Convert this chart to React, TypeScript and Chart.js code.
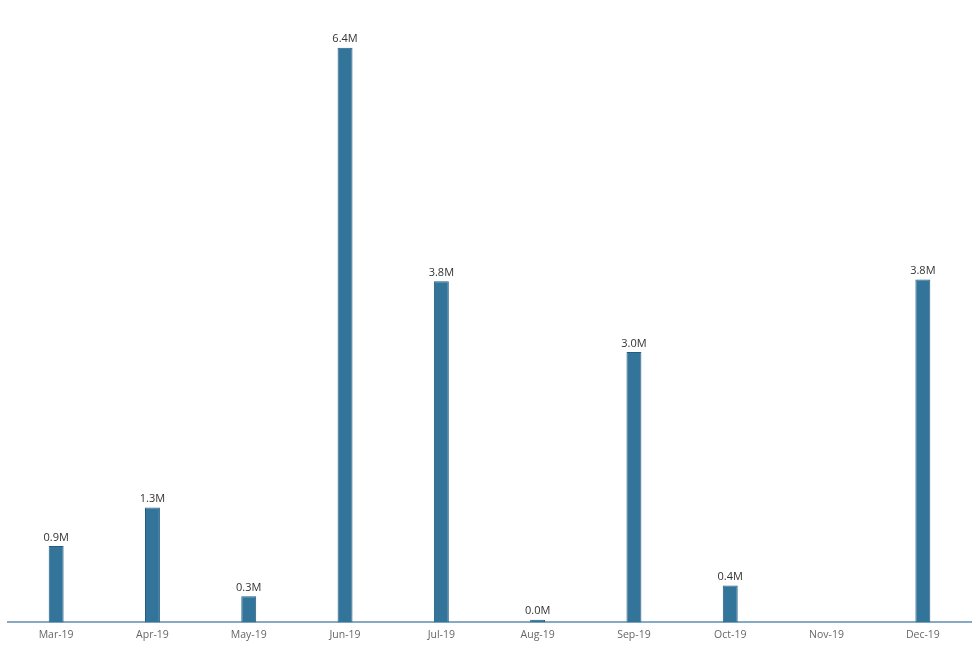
import React, { useEffect, useRef } from "react";
import { Chart, registerables } from "chart.js";

Chart.register(...registerables);

const months = ["Mar-19", "Apr-19", "May-19", "Jun-19", "Jul-19", "Aug-19", "Sep-19", "Oct-19", "Nov-19", "Dec-19"];
const values: (number | null)[] = [0.85, 1.28, 0.29, 6.4, 3.8, 0.03, 3.01, 0.41, null, 3.82];
const valueLabels = ["0.9M", "1.3M", "0.3M", "6.4M", "3.8M", "0.0M", "3.0M", "0.4M", "", "3.8M"];

const labelPlugin = {
  id: "barLabels",
  afterDatasetsDraw(chart: any) {
    const ctx = chart.ctx;
    const meta = chart.getDatasetMeta(0);
    ctx.save();
    ctx.font = "11px 'Open Sans', Lato, sans-serif";
    ctx.fillStyle = "#333333";
    ctx.textAlign = "center";
    ctx.textBaseline = "bottom";
    meta.data.forEach((bar: any, i: number) => {
      if (values[i] == null) return;
      ctx.fillText(valueLabels[i], bar.x, bar.y - 3);
    });
    ctx.restore();
  },
};

export default function App() {
  const ref = useRef<HTMLCanvasElement>(null);
  useEffect(() => {
    if (!ref.current) return;
    const chart = new Chart(ref.current, {
      type: "bar",
      data: {
        labels: months,
        datasets: [
          {
            data: values,
            backgroundColor: "#33749b",
            borderColor: "#245c80",
            borderWidth: 1,
            categoryPercentage: 1,
            barPercentage: 0.155,
          },
        ],
      },
      options: {
        animation: false,
        responsive: false,
        maintainAspectRatio: false,
        layout: { padding: { left: 8, right: 9, top: 10, bottom: 3 } },
        plugins: { legend: { display: false }, tooltip: { enabled: false } },
        scales: {
          x: {
            z: -1,
            grid: { display: false, drawTicks: false },
            border: { display: true, color: "#86aac3", width: 2 },
            ticks: {
              color: "#666666",
              font: { family: "'Open Sans', Lato, sans-serif", size: 10.5 },
              padding: 6,
            },
          },
          y: {
            display: false,
            min: 0,
            max: 6.82,
          },
        },
      },
      plugins: [labelPlugin],
    });
    return () => chart.destroy();
  }, []);
  return (
    <div style={{ position: "absolute", left: 0, top: 0, width: 980, height: 650, background: "#fff" }}>
      <canvas ref={ref} width={980} height={650} style={{ width: 980, height: 650 }} />
    </div>
  );
}
